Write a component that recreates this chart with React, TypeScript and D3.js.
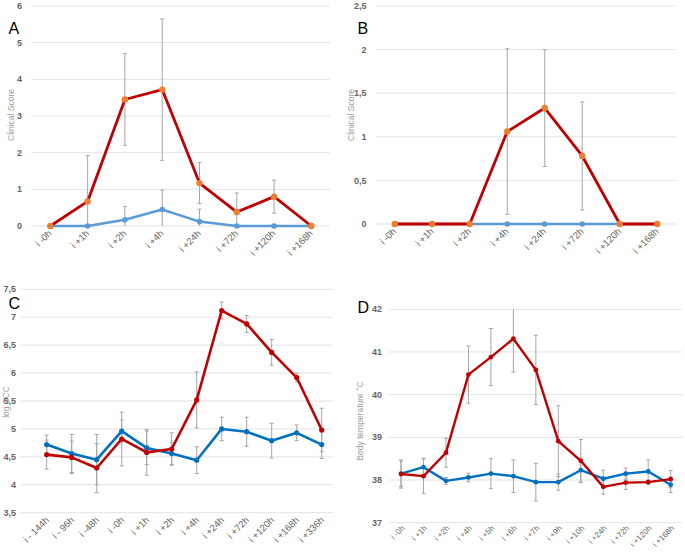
import React from 'react';
import * as d3 from 'd3';

const A_CATS = ['i -0h', 'i +1h', 'i +2h', 'i +4h', 'i +24h', 'i +72h', 'i +120h', 'i +168h'];
const A_RED = [0, 0.67, 3.45, 3.72, 1.17, 0.38, 0.8, 0];
const A_RED_SD = [0, 1.25, 1.25, 1.93, 0.56, 0.52, 0.45, 0];
const A_BLUE = [0, 0, 0.17, 0.45, 0.12, 0, 0, 0];
const A_BLUE_SD = [0, 0, 0.36, 0.53, 0.34, 0, 0, 0];
const A_TICKS = [0, 1, 2, 3, 4, 5, 6];

const B_CATS = ['i -0h', 'i +1h', 'i +2h', 'i +4h', 'i +24h', 'i +72h', 'i +120h', 'i +168h'];
const B_RED = [0, 0, 0, 1.06, 1.33, 0.78, 0, 0];
const B_RED_SD = [0, 0, 0, 0.95, 0.67, 0.62, 0, 0];
const B_BLUE = [0, 0, 0, 0, 0, 0, 0, 0];
const B_BLUE_SD = [0, 0, 0, 0, 0, 0, 0, 0];
const B_TICKS = [0, 0.5, 1, 1.5, 2, 2.5];

const C_CATS = ['i - 144h', 'i - 96h', 'i -48h', 'i -0h', 'i +1h', 'i +2h', 'i +4h', 'i +24h', 'i +72h', 'i +120h', 'i +168h', 'i +336h'];
const C_RED = [4.54, 4.49, 4.3, 4.82, 4.58, 4.64, 5.52, 7.12, 6.88, 6.37, 5.92, 4.98];
const C_RED_SD = [0.26, 0.29, 0.44, 0.48, 0.41, 0.29, 0.5, 0.15, 0.15, 0.23, 0.08, 0.39];
const C_BLUE = [4.72, 4.56, 4.45, 4.96, 4.66, 4.56, 4.44, 5.0, 4.95, 4.79, 4.93, 4.72];
const C_BLUE_SD = [0.17, 0.34, 0.45, 0.2, 0.3, 0.2, 0.24, 0.21, 0.26, 0.31, 0.14, 0.25];
const C_TICKS = [3.5, 4, 4.5, 5, 5.5, 6, 6.5, 7, 7.5];

const D_CATS = ['i -0h', 'i +1h', 'i +2h', 'i +4h', 'i +5h', 'i +6h', 'i +7h', 'i +9h', 'i +10h', 'i +24h', 'i +72h', 'i +120h', 'i +168h'];
const D_RED = [38.14, 38.09, 38.64, 40.47, 40.88, 41.31, 40.58, 38.91, 38.45, 37.84, 37.94, 37.95, 38.02];
const D_RED_SD = [0.33, 0.4, 0.34, 0.67, 0.67, 0.78, 0.81, 0.83, 0.5, 0.17, 0.16, 0.05, 0.2];
const D_BLUE = [38.15, 38.3, 37.98, 38.06, 38.15, 38.09, 37.95, 37.95, 38.23, 38.03, 38.15, 38.2, 37.89];
const D_BLUE_SD = [0.3, 0.21, 0.08, 0.1, 0.35, 0.38, 0.44, 0.19, 0.29, 0.2, 0.13, 0.27, 0.18];
const D_TICKS = [37, 38, 39, 40, 41, 42];

const FONT = 'Liberation Sans, Arial, sans-serif';
const fmt = (v: number) => String(v).replace('.', ',');

type Series = { values: number[]; sd: number[]; line: string; marker: string; width: number; r: number };

type PanelProps = {
  letter: string;
  letterX: number;
  letterY: number;
  cats: string[];
  ticks: number[];
  domain: [number, number];
  xRange: [number, number];
  gridX: [number, number];
  yRange: [number, number];
  tickX: number;
  title: string;
  titleX: number;
  titleY: number;
  series: Series[];
  catFont: number;
  catDx: number;
  catDy: number;
};

function Panel(p: PanelProps) {
  const x = d3.scaleBand<string>().domain(p.cats).range(p.xRange);
  const y = d3.scaleLinear().domain(p.domain).range(p.yRange);
  const cx = (c: string) => (x(c) as number) + x.bandwidth() / 2;
  const clamp = (v: number) => Math.max(p.domain[0], Math.min(p.domain[1], v));
  const line = d3
    .line<number>()
    .x((_, i) => cx(p.cats[i]))
    .y((d) => y(d));
  return (
    <g>
      {p.ticks.map((t) => (
        <g key={t}>
          <line x1={p.gridX[0]} x2={p.gridX[1]} y1={y(t)} y2={y(t)} stroke="#e3e3e3" strokeWidth={1} />
          <text x={p.tickX} y={y(t)} dy="0.35em" textAnchor="end" fontSize={9} fontWeight={600} fill="#666" fontFamily={FONT}>
            {fmt(t)}
          </text>
        </g>
      ))}
      <text
        transform={`translate(${p.titleX},${p.titleY}) rotate(-90)`}
        textAnchor="middle"
        fontSize={8.5}
        fill="#a0a0a0"
        fontFamily={FONT}
      >
        {p.title}
      </text>
      {p.cats.map((c) => (
        <text
          key={c}
          transform={`translate(${cx(c) + p.catDx},${p.yRange[0] + p.catDy}) rotate(-45)`}
          textAnchor="end"
          fontSize={p.catFont}
          fill="#666"
          fontFamily={FONT}
        >
          {c}
        </text>
      ))}
      {p.series.map((s, si) => (
        <g key={'e' + si}>
          {s.values.map((v, i) =>
            s.sd[i] > 0 ? (
              <g key={i} stroke="#a6a6a6" strokeWidth={1}>
                <line x1={cx(p.cats[i])} x2={cx(p.cats[i])} y1={y(clamp(v - s.sd[i]))} y2={y(clamp(v + s.sd[i]))} />
                {v + s.sd[i] <= p.domain[1] && (
                  <line x1={cx(p.cats[i]) - 2} x2={cx(p.cats[i]) + 2} y1={y(v + s.sd[i])} y2={y(v + s.sd[i])} />
                )}
                {v - s.sd[i] >= p.domain[0] && (
                  <line x1={cx(p.cats[i]) - 2} x2={cx(p.cats[i]) + 2} y1={y(v - s.sd[i])} y2={y(v - s.sd[i])} />
                )}
              </g>
            ) : null
          )}
        </g>
      ))}
      {p.series.map((s, si) => (
        <g key={'l' + si}>
          <path d={line(s.values) || ''} fill="none" stroke={s.line} strokeWidth={s.width} strokeLinejoin="round" />
          {s.values.map((v, i) => (
            <circle key={i} cx={cx(p.cats[i])} cy={y(v)} r={s.r} fill={s.marker} />
          ))}
        </g>
      ))}
      <text x={p.letterX} y={p.letterY} fontSize={16} fill="#000" fontFamily={FONT}>
        {p.letter}
      </text>
    </g>
  );
}

const RED = '#c00000';
const ORANGE = '#ed7d31';
const LBLUE = '#5b9bd5';
const DBLUE = '#0070c0';

export default function App() {
  return (
    <svg
      width={685}
      height={557}
      style={{ position: 'absolute', left: 0, top: 0, background: '#fff', display: 'block' }}
    >
      <rect width={685} height={557} fill="#fff" />
      <Panel
        letter="A"
        letterX={8.5}
        letterY={34}
        cats={A_CATS}
        ticks={A_TICKS}
        domain={[0, 6]}
        xRange={[31.7, 330]}
        gridX={[31.7, 330]}
        yRange={[226, 6]}
        tickX={22}
        title="Clinical Score"
        titleX={14}
        titleY={115}
        catFont={9.5}
        catDx={2}
        catDy={8}
        series={[
          { values: A_BLUE, sd: A_BLUE_SD, line: LBLUE, marker: LBLUE, width: 2.5, r: 2.8 },
          { values: A_RED, sd: A_RED_SD, line: RED, marker: ORANGE, width: 2.8, r: 3.2 },
        ]}
      />
      <Panel
        letter="B"
        letterX={357.5}
        letterY={34}
        cats={B_CATS}
        ticks={B_TICKS}
        domain={[0, 2.5]}
        xRange={[376, 676]}
        gridX={[376, 676]}
        yRange={[224, 6]}
        tickX={366.5}
        title="Clinical Score"
        titleX={354}
        titleY={115}
        catFont={9.5}
        catDx={2}
        catDy={8}
        series={[
          { values: B_BLUE, sd: B_BLUE_SD, line: LBLUE, marker: LBLUE, width: 2.5, r: 2.8 },
          { values: B_RED, sd: B_RED_SD, line: RED, marker: ORANGE, width: 2.8, r: 3.2 },
        ]}
      />
      <Panel
        letter="C"
        letterX={8.5}
        letterY={308.5}
        cats={C_CATS}
        ticks={C_TICKS}
        domain={[3.5, 7.5]}
        xRange={[34.2, 334.2]}
        gridX={[20.5, 333]}
        yRange={[512.7, 289.3]}
        tickX={16}
        title="log SCC"
        titleX={8.5}
        titleY={402}
        catFont={9.5}
        catDx={3}
        catDy={8}
        series={[
          { values: C_BLUE, sd: C_BLUE_SD, line: DBLUE, marker: DBLUE, width: 2.6, r: 2.6 },
          { values: C_RED, sd: C_RED_SD, line: RED, marker: RED, width: 2.6, r: 2.6 },
        ]}
      />
      <Panel
        letter="D"
        letterX={357.5}
        letterY={313}
        cats={D_CATS}
        ticks={D_TICKS}
        domain={[37, 42]}
        xRange={[389.8, 681.9]}
        gridX={[389, 681.9]}
        yRange={[522.7, 309.3]}
        tickX={382}
        title="Body temperature °C"
        titleX={363}
        titleY={421}
        catFont={8}
        catDx={4}
        catDy={6}
        series={[
          { values: D_BLUE, sd: D_BLUE_SD, line: DBLUE, marker: DBLUE, width: 2.4, r: 2.4 },
          { values: D_RED, sd: D_RED_SD, line: RED, marker: RED, width: 2.4, r: 2.4 },
        ]}
      />
    </svg>
  );
}
